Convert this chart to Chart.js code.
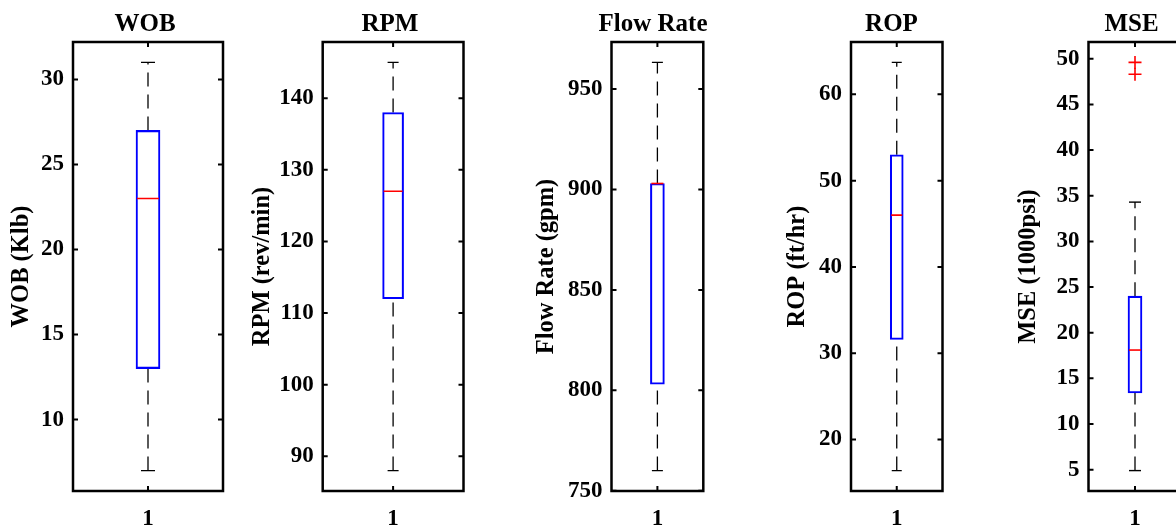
<!DOCTYPE html>
<html>
<head>
<meta charset="utf-8">
<script src="https://cdn.jsdelivr.net/npm/chart.js@4/dist/chart.umd.min.js"></script>
<style>
	html, body { margin: 0; padding: 0; background: #fff; }
	#wrap { position: relative; width: 1176px; height: 525px; overflow: hidden; }
	#wrap canvas { position: absolute; top: 0; }
</style>
</head>
<body>
<div id="wrap"></div>
<script>
// box plot values (one entry per panel)
const panelTitles = ["WOB", "RPM", "Flow Rate", "ROP", "MSE"];
const yTitles = ["WOB (Klb)", "RPM (rev/min)", "Flow Rate (gpm)", "ROP (ft/hr)", "MSE (1000psi)"];
const categories = ["1"];
const lowerWhisker = [7, 88, 760, 16.4, 4.9];
const q1 = [13, 112, 803, 31.6, 13.4];
const median = [23, 127, 903, 46, 18.1];
const q3 = [27, 138, 903, 53, 24];
const upperWhisker = [31, 145, 963.3, 63.7, 34.3];
const outliers = [[], [], [], [], [48.3, 49.6]];
const yTicks = [
	[10, 15, 20, 25, 30],
	[90, 100, 110, 120, 130, 140],
	[750, 800, 850, 900, 950],
	[20, 30, 40, 50, 60],
	[5, 10, 15, 20, 25, 30, 35, 40, 45, 50],
];

// layout of each panel (pixels)
const canvasLeft = [7, 248, 531.5, 782.5, 1013.5];
const frameLeft = [73, 322.7, 611, 850.5, 1088];
const frameRight = [223, 463.5, 702.8, 942, 1181];
const titleCenter = [145, 390, 652.5, 891, 1131];
const boxPx = [24, 21, 14, 13, 14];
const capPx = [14, 11, 11, 10, 12];

const FONT = "'Liberation Serif', 'Times New Roman', serif";

// MATLAB-style frame with inward ticks
const frameTicks = {
	id: "frameTicks",
	afterDraw(chart) {
		const { ctx, chartArea: a, scales } = chart;
		const y = scales.y;
		const x = scales.x;
		ctx.save();
		ctx.strokeStyle = "#000";
		ctx.lineWidth = 2.5;
		ctx.strokeRect(a.left, a.top, a.right - a.left, a.bottom - a.top);
		ctx.lineWidth = 2;
		ctx.beginPath();
		y.ticks.forEach((t) => {
			const py = y.getPixelForValue(t.value);
			ctx.moveTo(a.left, py);
			ctx.lineTo(a.left + 5, py);
			ctx.moveTo(a.right, py);
			ctx.lineTo(a.right - 5, py);
		});
		const px = x.getPixelForValue(0);
		ctx.moveTo(px, a.top);
		ctx.lineTo(px, a.top + 5);
		ctx.moveTo(px, a.bottom);
		ctx.lineTo(px, a.bottom - 5);
		ctx.stroke();
		ctx.restore();
	},
};

const wrap = document.getElementById("wrap");

panelTitles.forEach((title, i) => {
	// canvas spans so that its centre sits under the panel title
	const w = Math.round(2 * (titleCenter[i] - canvasLeft[i]));
	const rightGap = canvasLeft[i] + w - frameRight[i];
	const yAxisWidth = frameLeft[i] - canvasLeft[i];

	const canvas = document.createElement("canvas");
	canvas.width = w;
	canvas.height = 525;
	canvas.style.left = canvasLeft[i] + "px";
	canvas.style.width = w + "px";
	canvas.style.height = "525px";
	wrap.appendChild(canvas);

	// MATLAB pads the y-range by 5 % of the data extent
	const lo = Math.min(lowerWhisker[i], ...outliers[i]);
	const hi = Math.max(upperWhisker[i], ...outliers[i]);
	const pad = (hi - lo) * 0.05;

	new Chart(canvas, {
		type: "bar",
		data: {
			labels: categories,
			datasets: [
				{
					type: "line",
					label: "median",
					data: [{ x: "1", y: median[i] }],
					showLine: false,
					pointStyle: "line",
					pointRadius: boxPx[i] / 2 - 1,
					pointBorderColor: "#ff0000",
					pointBorderWidth: 1.6,
					order: 0,
				},
				{
					type: "bar",
					label: "box",
					data: [[q1[i], q3[i]]],
					backgroundColor: "rgba(255,255,255,0)",
					borderColor: "#0000ff",
					borderWidth: 1.4,
					borderSkipped: false,
					barThickness: boxPx[i],
					order: 1,
				},
				{
					type: "line",
					label: "upper whisker",
					data: [
						{ x: "1", y: q3[i] },
						{ x: "1", y: upperWhisker[i] },
					],
					borderColor: "#000",
					borderWidth: 1.3,
					borderDash: [14, 8],
					pointRadius: 0,
					order: 2,
				},
				{
					type: "line",
					label: "lower whisker",
					data: [
						{ x: "1", y: lowerWhisker[i] },
						{ x: "1", y: q1[i] },
					],
					borderColor: "#000",
					borderWidth: 1.3,
					borderDash: [14, 8],
					pointRadius: 0,
					order: 2,
				},
				{
					type: "line",
					label: "caps",
					data: [
						{ x: "1", y: lowerWhisker[i] },
						{ x: "1", y: upperWhisker[i] },
					],
					showLine: false,
					pointStyle: "line",
					pointRadius: capPx[i] / 2,
					pointBorderColor: "#000",
					pointBorderWidth: 1.4,
					order: 2,
				},
				{
					type: "line",
					label: "outliers",
					data: outliers[i].map((v) => ({ x: "1", y: v })),
					showLine: false,
					pointStyle: "cross",
					pointRadius: 6.5,
					pointBorderColor: "#ff0000",
					pointBorderWidth: 1.6,
					order: 0,
				},
			],
		},
		options: {
			responsive: false,
			animation: false,
			events: [],
			layout: { padding: 0 },
			plugins: {
				legend: { display: false },
				tooltip: { enabled: false },
				title: {
					display: true,
					text: title,
					color: "#000",
					font: { family: FONT, size: 25, weight: "bold" },
					padding: { top: 10, bottom: 2 },
				},
			},
			scales: {
				x: {
					type: "category",
					grid: { display: false },
					border: { display: false },
					ticks: {
						color: "#000",
						padding: 6,
						font: { family: FONT, size: 23, weight: "bold" },
					},
					afterFit: (s) => {
						s.height = 34;
					},
				},
				y: {
					type: "linear",
					min: lo - pad,
					max: hi + pad,
					grid: { display: false, drawTicks: false },
					border: { display: false },
					ticks: {
						color: "#000",
						padding: 9,
						font: { family: FONT, size: 23, weight: "bold" },
					},
					afterBuildTicks: (s) => {
						s.ticks = yTicks[i].map((v) => ({ value: v }));
					},
					title: {
						display: true,
						text: yTitles[i],
						color: "#000",
						padding: 0,
						font: { family: FONT, size: 24.5, weight: "bold" },
					},
					afterFit: (s) => {
						s.width = yAxisWidth;
					},
				},
				// empty spacer on the right so the title centres over the panel
				spacer: {
					type: "linear",
					position: "right",
					grid: { display: false, drawTicks: false },
					border: { display: false },
					ticks: { display: false },
					afterFit: (s) => {
						s.width = rightGap;
					},
				},
			},
		},
		plugins: [frameTicks],
	});
});
</script>
</body>
</html>
